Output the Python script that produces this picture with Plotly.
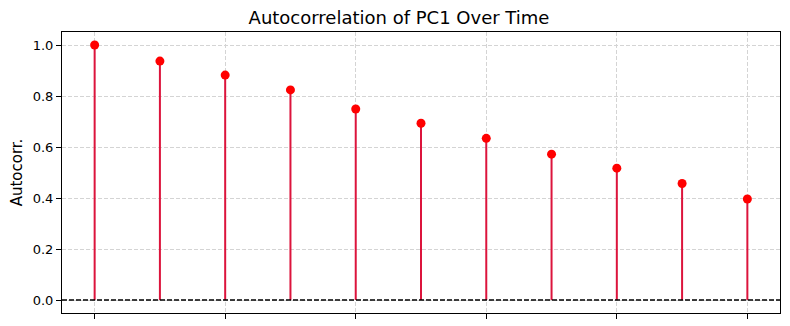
import plotly.graph_objects as go

# lags and autocorrelation values
lags = [0, 1, 2, 3, 4, 5, 6, 7, 8, 9, 10]
autocorr = [1.0, 0.937, 0.882, 0.824, 0.749, 0.693, 0.634, 0.572, 0.517, 0.457, 0.396]
y_ticks = [0.0, 0.2, 0.4, 0.6, 0.8, 1.0]
x_ticks = [0, 2, 4, 6, 8, 10]

FONT = "DejaVu Sans"

fig = go.Figure()

# stems: error bars going down to the baseline
fig.add_trace(go.Scatter(
    x=lags, y=autocorr,
    mode="markers",
    marker=dict(color="#ff0000", size=9),
    error_y=dict(
        type="data", symmetric=False,
        array=[0] * len(autocorr), arrayminus=autocorr,
        color="#dc143c", thickness=2, width=0,
    ),
    showlegend=False,
))

# baseline
fig.add_hline(y=0, line=dict(color="black", width=1.3, dash="5px,2px"))

# page body has an 8px margin, so the figure is a bit smaller than the window
fig.update_layout(
    width=782, height=318,
    margin=dict(l=54, r=10, t=24, b=13, autoexpand=False),
    paper_bgcolor="white", plot_bgcolor="white",
    font=dict(family=FONT, size=13, color="black"),
    title=dict(text="Autocorrelation of PC1 Over Time", x=0.5, xanchor="center",
               y=0.97, yanchor="middle", font=dict(size=18)),
)

grid = dict(showgrid=True, gridcolor="#d4d4d4", griddash="4px,2px", gridwidth=1)

fig.update_xaxes(
    range=[-0.5, 10.5], tickvals=x_ticks, showticklabels=False,
    ticks="outside", ticklen=5, tickcolor="black", automargin=False,
    showline=True, linecolor="black", linewidth=1, mirror=True,
    zeroline=False, **grid,
)
fig.update_yaxes(
    range=[-0.051, 1.051], tickvals=y_ticks, tickformat=".1f",
    ticks="outside", ticklen=5, tickcolor="black", automargin=False,
    showline=True, linecolor="black", linewidth=1, mirror=True,
    zeroline=False, **grid,
    title=dict(text="Autocorr.", font=dict(size=15), standoff=7),
)

fig.write_html("out.html")
